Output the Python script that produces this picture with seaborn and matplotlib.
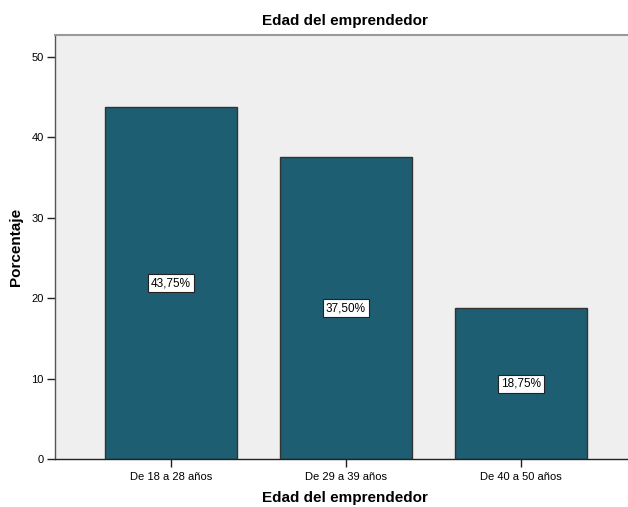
import matplotlib
matplotlib.use("Agg")
import matplotlib.pyplot as plt
import seaborn as sns
import pandas as pd

categories = ["De 18 a 28 años", "De 29 a 39 años", "De 40 a 50 años"]
percentages = [43.75, 37.50, 18.75]
value_labels = ["43,75%", "37,50%", "18,75%"]
y_ticks = [0, 10, 20, 30, 40, 50]

df = pd.DataFrame({"Edad": categories, "Porcentaje": percentages})

sns.set_theme(style="white")
plt.rcParams["font.family"] = ["Liberation Sans", "DejaVu Sans"]
plt.rcParams["text.color"] = "black"
plt.rcParams["axes.labelcolor"] = "black"
plt.rcParams["xtick.color"] = "black"
plt.rcParams["ytick.color"] = "black"

fig = plt.figure(figsize=(6.28, 5.07), dpi=100)
ax = fig.add_axes([55 / 628, 1 - 459 / 507, 1 - 55 / 628 + 0.01, (459 - 35) / 507])
ax.set_facecolor("#EFEFEF")

sns.barplot(data=df, x="Edad", y="Porcentaje", color="#1D5E73", width=0.754,
            edgecolor="#333333", linewidth=1.0, saturation=1, ax=ax)

for i, (v, lab) in enumerate(zip(percentages, value_labels)):
    ax.text(i, v / 2, lab, ha="center", va="center", fontsize=8.5, color="black",
            bbox=dict(boxstyle="square,pad=0.25", facecolor="white",
                      edgecolor="#222222", linewidth=0.8))

ax.set_xlim(-0.663, 2.65)
ax.set_ylim(0, 52.7)
ax.set_yticks(y_ticks)
ax.set_yticklabels([str(t) for t in y_ticks], fontsize=8)
ax.tick_params(axis="x", labelsize=8, length=6, width=1, color="#222222",
               direction="out", bottom=True, pad=3)
ax.tick_params(axis="y", length=6, width=1, color="#222222",
               direction="out", left=True, pad=2)

ax.spines["right"].set_visible(False)
ax.spines["top"].set_color("#999999")
ax.spines["top"].set_linewidth(1.5)
ax.spines["left"].set_color("#555555")
ax.spines["left"].set_linewidth(1.0)
ax.spines["bottom"].set_color("#222222")
ax.spines["bottom"].set_linewidth(1.0)

ax.set_title("Edad del emprendedor", fontsize=11, fontweight="bold", pad=7)
ax.set_xlabel("Edad del emprendedor", fontsize=11, fontweight="bold", labelpad=7)
ax.set_ylabel("Porcentaje", fontsize=11, fontweight="bold", labelpad=6)

fig.savefig("out.png", dpi=100)
